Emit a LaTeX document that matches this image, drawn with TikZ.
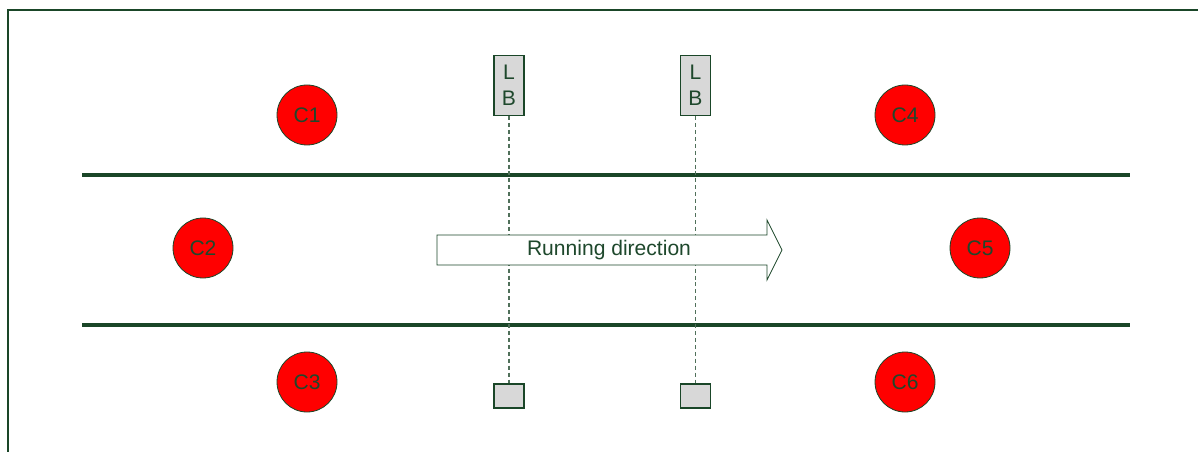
\documentclass[tikz,border=0pt]{standalone}
\usepackage{fontspec}
\setmainfont{Liberation Sans}
\definecolor{dg}{RGB}{26,70,40}
\definecolor{dgtext}{RGB}{30,72,44}
\definecolor{boxgray}{RGB}{216,216,216}
\definecolor{dashc}{RGB}{80,112,90}
\begin{document}
\begin{tikzpicture}[x=0.75pt,y=-0.75pt,
  every node/.style={font=\fontsize{15.8}{19.5}\selectfont, text=dgtext, inner sep=0pt},
  coil/.style={circle, draw=dg, line width=0.6pt, fill=red, minimum size=45pt},
  lbbox/.style={draw=dg, line width=0.8pt, fill=boxgray, minimum width=22.5pt, minimum height=45pt, align=center},
  sbox/.style={draw=dg, line width=0.8pt, fill=boxgray, minimum width=22.5pt, minimum height=18pt},
  track/.style={draw=dg, line width=2.3pt},
  frameline/.style={draw=dg, line width=0.9pt},
  beam/.style={draw=dashc, line width=0.8pt, dash pattern=on 3pt off 2.2pt}
]
\useasboundingbox (0,0) rectangle (1198,452);
% frame
\coordinate (f1) at (8,452);
\coordinate (f2) at (8,10);
\coordinate (f3) at (1198,10);
\draw[frameline] (f1) -- (f2) -- (f3);
% tracks
\coordinate (t1a) at (82,175);
\coordinate (t1b) at (1130,175);
\coordinate (t2a) at (82,325);
\coordinate (t2b) at (1130,325);
\draw[track] (t1a) -- (t1b);
\draw[track] (t2a) -- (t2b);
% light barriers
\node[lbbox] (lb1) at (509,85.5) {L\\B};
\node[lbbox] (lb2) at (695.5,85.5) {L\\B};
\node[sbox] (sb1) at (509,396) {};
\node[sbox] (sb2) at (695.5,396) {};
\draw[beam] (lb1.south) -- (sb1.north);
\draw[beam] (lb2.south) -- (sb2.north);
% arrow
\draw[draw=dg, line width=0.6pt, fill=white]
  (437,235) -- (767,235) -- (767,220) -- (782,250) -- (767,280) -- (767,265) -- (437,265) -- cycle;
\node (rd) at (609,250.5) {Running direction};
% coils
\node[coil] (c1) at (307,115) {C1};
\node[coil] (c2) at (203,248) {C2};
\node[coil] (c3) at (307,382) {C3};
\node[coil] (c4) at (905,115) {C4};
\node[coil] (c5) at (980,248) {C5};
\node[coil] (c6) at (905,382) {C6};
\end{tikzpicture}
\end{document}
